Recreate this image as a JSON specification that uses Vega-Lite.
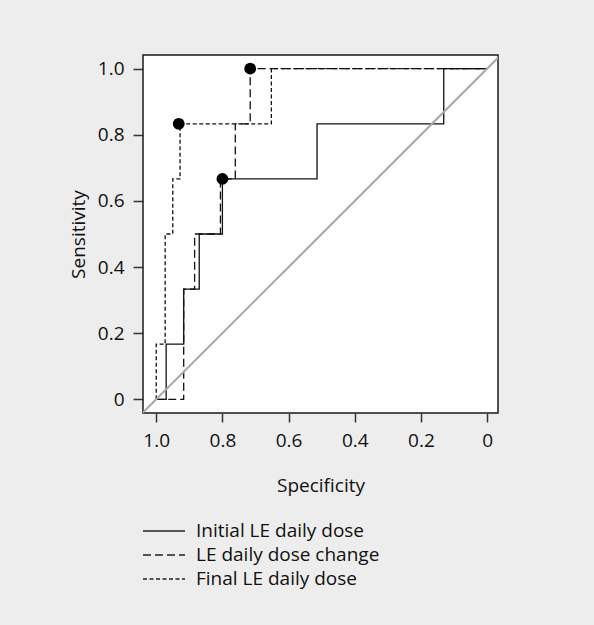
{
  "$schema": "https://vega.github.io/schema/vega-lite/v6.json",
  "width": 355,
  "height": 358,
  "autosize": {"type": "none"},
  "padding": {"left": 143, "top": 55, "right": 96, "bottom": 212},
  "background": "#ededed",
  "config": {
    "font": "Open Sans",
    "view": {"fill": "white", "stroke": "#1a1a1a", "strokeWidth": 1.5},
    "axis": {
      "grid": false,
      "domain": false,
      "tickColor": "#333333",
      "tickWidth": 1.5,
      "labelFont": "Open Sans",
      "labelFontSize": 19,
      "labelColor": "#111111",
      "titleFont": "Open Sans",
      "titleFontSize": 19,
      "titleFontWeight": "normal",
      "titleColor": "#111111"
    },
    "legend": {
      "labelFont": "Open Sans",
      "labelFontSize": 19,
      "labelColor": "#111111",
      "labelLimit": 400
    }
  },
  "datasets": {
    "roc": [
      {"series": "Initial LE daily dose", "i": 1, "spec": 1.0, "sens": 0},
      {"series": "Initial LE daily dose", "i": 2, "spec": 0.970, "sens": 0},
      {"series": "Initial LE daily dose", "i": 3, "spec": 0.970, "sens": 0.1667},
      {"series": "Initial LE daily dose", "i": 4, "spec": 0.917, "sens": 0.1667},
      {"series": "Initial LE daily dose", "i": 5, "spec": 0.917, "sens": 0.3333},
      {"series": "Initial LE daily dose", "i": 6, "spec": 0.870, "sens": 0.3333},
      {"series": "Initial LE daily dose", "i": 7, "spec": 0.870, "sens": 0.5},
      {"series": "Initial LE daily dose", "i": 8, "spec": 0.800, "sens": 0.5},
      {"series": "Initial LE daily dose", "i": 9, "spec": 0.800, "sens": 0.6667},
      {"series": "Initial LE daily dose", "i": 10, "spec": 0.514, "sens": 0.6667},
      {"series": "Initial LE daily dose", "i": 11, "spec": 0.514, "sens": 0.8333},
      {"series": "Initial LE daily dose", "i": 12, "spec": 0.131, "sens": 0.8333},
      {"series": "Initial LE daily dose", "i": 13, "spec": 0.131, "sens": 1.0},
      {"series": "Initial LE daily dose", "i": 14, "spec": 0.0, "sens": 1.0},
      {"series": "LE daily dose change", "i": 1, "spec": 1.0, "sens": 0},
      {"series": "LE daily dose change", "i": 2, "spec": 0.917, "sens": 0},
      {"series": "LE daily dose change", "i": 3, "spec": 0.917, "sens": 0.3333},
      {"series": "LE daily dose change", "i": 4, "spec": 0.884, "sens": 0.3333},
      {"series": "LE daily dose change", "i": 5, "spec": 0.884, "sens": 0.5},
      {"series": "LE daily dose change", "i": 6, "spec": 0.806, "sens": 0.5},
      {"series": "LE daily dose change", "i": 7, "spec": 0.806, "sens": 0.6667},
      {"series": "LE daily dose change", "i": 8, "spec": 0.761, "sens": 0.6667},
      {"series": "LE daily dose change", "i": 9, "spec": 0.761, "sens": 0.8333},
      {"series": "LE daily dose change", "i": 10, "spec": 0.716, "sens": 0.8333},
      {"series": "LE daily dose change", "i": 11, "spec": 0.716, "sens": 1.0},
      {"series": "LE daily dose change", "i": 12, "spec": 0.0, "sens": 1.0},
      {"series": "Final LE daily dose", "i": 1, "spec": 1.0, "sens": 0},
      {"series": "Final LE daily dose", "i": 2, "spec": 1.0, "sens": 0.1667},
      {"series": "Final LE daily dose", "i": 3, "spec": 0.973, "sens": 0.1667},
      {"series": "Final LE daily dose", "i": 4, "spec": 0.973, "sens": 0.5},
      {"series": "Final LE daily dose", "i": 5, "spec": 0.950, "sens": 0.5},
      {"series": "Final LE daily dose", "i": 6, "spec": 0.950, "sens": 0.6667},
      {"series": "Final LE daily dose", "i": 7, "spec": 0.928, "sens": 0.6667},
      {"series": "Final LE daily dose", "i": 8, "spec": 0.928, "sens": 0.8333},
      {"series": "Final LE daily dose", "i": 9, "spec": 0.652, "sens": 0.8333},
      {"series": "Final LE daily dose", "i": 10, "spec": 0.652, "sens": 1.0},
      {"series": "Final LE daily dose", "i": 11, "spec": 0.0, "sens": 1.0}
    ],
    "cuts": [
      {"series": "Initial LE daily dose", "spec": 0.800, "sens": 0.6667},
      {"series": "LE daily dose change", "spec": 0.716, "sens": 1.0},
      {"series": "Final LE daily dose", "spec": 0.932, "sens": 0.8333}
    ],
    "diag": [
      {"i": 1, "spec": 1.05, "sens": -0.05},
      {"i": 2, "spec": -0.05, "sens": 1.05}
    ]
  },
  "encoding": {
    "x": {
      "field": "spec",
      "type": "quantitative",
      "scale": {"domain": [-0.033, 1.04], "reverse": true, "nice": false, "zero": false},
      "axis": {
        "title": "Specificity",
        "values": [0, 0.2, 0.4, 0.6, 0.8, 1.0],
        "labelExpr": "datum.value == 0 ? '0' : format(datum.value, '.1f')",
        "tickSize": 9,
        "labelPadding": 9,
        "titlePadding": 26
      }
    },
    "y": {
      "field": "sens",
      "type": "quantitative",
      "scale": {"domain": [-0.0414, 1.0414], "nice": false, "zero": false},
      "axis": {
        "title": "Sensitivity",
        "values": [0, 0.2, 0.4, 0.6, 0.8, 1.0],
        "labelExpr": "datum.value == 0 ? '0' : format(datum.value, '.1f')",
        "tickSize": 10,
        "labelPadding": 9,
        "titlePadding": 9
      }
    }
  },
  "layer": [
    {
      "data": {"name": "roc"},
      "mark": {"type": "line", "color": "#111111", "strokeWidth": 1.3},
      "encoding": {
        "order": {"field": "i", "type": "quantitative"},
        "strokeDash": {
          "field": "series",
          "type": "nominal",
          "scale": {
            "domain": ["Initial LE daily dose", "LE daily dose change", "Final LE daily dose"],
            "range": [[1, 0], [8, 4], [4, 2.5]]
          },
          "legend": {
            "title": null,
            "orient": "none",
            "legendX": -1,
            "legendY": 466,
            "padding": 0,
            "symbolType": "stroke",
            "symbolSize": 1764,
            "symbolStrokeWidth": 1.3,
            "symbolStrokeColor": "#222222",
            "clipHeight": 20,
            "rowPadding": 4,
            "labelOffset": 10
          }
        }
      }
    },
    {
      "data": {"name": "diag"},
      "mark": {"type": "line", "color": "#a8a8a8", "strokeWidth": 2, "clip": true},
      "encoding": {
        "order": {"field": "i", "type": "quantitative"}
      }
    },
    {
      "data": {"name": "cuts"},
      "mark": {"type": "point", "filled": true, "color": "black", "opacity": 1, "size": 140, "shape": "circle"},
      "encoding": {}
    }
  ]
}
